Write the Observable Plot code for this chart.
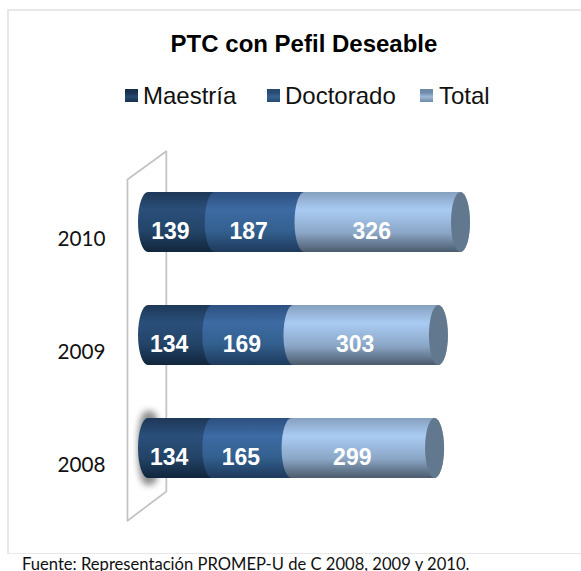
<!DOCTYPE html>
<html><head><meta charset="utf-8">
<script src="https://cdn.jsdelivr.net/npm/d3@7"></script>
<script src="https://cdn.jsdelivr.net/npm/@observablehq/plot@0.6"></script>
<style>
html,body{margin:0;padding:0;background:#fff;width:581px;height:571px;overflow:hidden}
#wrap{position:relative;width:581px;height:571px;overflow:hidden}
#box{position:absolute;left:7px;top:9px;width:600px;height:545px;border:2px solid #e8e8e8;border-bottom-width:1px;box-sizing:border-box}
#title{position:absolute;left:0;width:608px;top:30px;text-align:center;font:bold 24px "Liberation Sans",sans-serif;color:#000}
.lg{position:absolute;top:82px;font:24px "Liberation Sans",sans-serif;color:#111;white-space:nowrap}
.sw{position:absolute;top:89px;width:13px;height:13px}
#cap{position:absolute;left:22px;top:554px;font:16.6px Lato,sans-serif;color:#111;white-space:nowrap}
#plot{position:absolute;left:0;top:0}
</style></head>
<body>
<svg width="0" height="0" style="position:absolute">
<defs>
<linearGradient id="gM" x1="0" y1="0" x2="0" y2="1"><stop offset="0" stop-color="#1e3857"/><stop offset=".3" stop-color="#2a4f7a"/><stop offset=".65" stop-color="#234468"/><stop offset="1" stop-color="#11263c"/></linearGradient>
<linearGradient id="gD" x1="0" y1="0" x2="0" y2="1"><stop offset="0" stop-color="#2d5080"/><stop offset=".3" stop-color="#3d6ba3"/><stop offset=".65" stop-color="#33608f"/><stop offset="1" stop-color="#1e3a5c"/></linearGradient>
<linearGradient id="gT" x1="0" y1="0" x2="0" y2="1"><stop offset="0" stop-color="#86a0bf"/><stop offset=".3" stop-color="#a9cbf3"/><stop offset=".68" stop-color="#8ba6c6"/><stop offset="1" stop-color="#4b5b6c"/></linearGradient>
</defs>
</svg>
<div id="wrap">
<div id="box"></div>
<div id="plot"></div>
<div id="title">PTC con Pefil Deseable</div>
<div id="legend"></div>
<div id="cap">Fuente: Representación PROMEP-U de C 2008, 2009 y 2010.</div>
</div>
<script>
const years = [2010, 2009, 2008];
const maestria = [139, 134, 134];
const doctorado = [187, 169, 165];
const total = [326, 303, 299];
const seriesNames = ["Maestría", "Doctorado", "Total"];
const seriesFills = ["url(#gM)", "url(#gD)", "url(#gT)"];
const capFill = "#62788f";
const legendLeft = [125, 267, 420];
const legendText = [143, 285, 439];
const swatchColors = ["#254a70", "#37628f", "#9db9d8"];
const swatchDark = ["#17304d", "#274a73", "#6f8aa8"];
const wallX = [-23, 58, 58, -23, -23];
const wallY = [2010.38, 2010.63, 2007.62, 2007.36, 2010.38];

const rows = [];
years.forEach((year, i) => {
  let start = 0;
  [maestria[i], doctorado[i], total[i]].forEach((v, s) => {
    rows.push({year, s, start, end: start + v, v});
    start += v;
  });
});
const half = 0.265;
const y1 = d => d.year + half, y2 = d => d.year - half;
const last = rows.filter(d => d.s === 2);

const chart = Plot.plot({
  width: 581, height: 571,
  marginLeft: 105, marginRight: 0, marginTop: 0, marginBottom: 0,
  style: {background: "transparent"},
  x: {domain: [0, 652], range: [138, 451], axis: null},
  y: {domain: [2011, 2007], range: [109, 561], axis: null},
  marks: [
    Plot.line(wallX.map((x, i) => ({x, y: wallY[i]})), {x: "x", y: "y", stroke: "#c4c4c4", strokeWidth: 1.8}),
    Plot.rect(rows.filter(d => d.year === 2008 && d.s === 0), {x1: "start", x2: "start", y1, y2, fill: "#444", rx: 8, ry: 30, insetLeft: 0, insetRight: -22, insetTop: -7, insetBottom: -7, imageFilter: "blur(3px)", opacity: 0.6}),
    ...[0, 1, 2].map(s => Plot.rect(rows.filter(d => d.s === s), {
      x1: "start", x2: "end", y1, y2, fill: seriesFills[s], rx: 10, ry: 30, insetRight: -19
    })),
    Plot.rect(last, {x1: "end", x2: "end", y1, y2, fill: capFill, rx: 10, ry: 30, insetRight: -19}),
    Plot.text(rows, {
      x: d => (d.start + d.end) / 2, y: "year", text: "v",
      fill: "white", fontWeight: "bold", fontSize: 23, fontFamily: "Liberation Sans",
      dy: 9, dx: -1.5
    }),
    Plot.axisY(years, {anchor: "left", tickSize: 0, tickPadding: 0, label: null, tickFormat: d => String(d), fontSize: 20.7, fontFamily: "Lato", fill: "#111", dy: 16.5})
  ]
});
document.getElementById("plot").append(chart);
const lg = document.getElementById("legend");
seriesNames.forEach((n, i) => {
  const sw = document.createElement("div");
  sw.className = "sw"; sw.style.left = legendLeft[i] + "px";
  sw.style.background = `linear-gradient(180deg, ${swatchDark[i]} 0 25%, ${swatchColors[i]} 60%, ${swatchDark[i]} 100%)`;
  const t = document.createElement("div");
  t.className = "lg"; t.style.left = legendText[i] + "px"; t.textContent = n;
  lg.append(sw, t);
});
</script>
</body></html>
